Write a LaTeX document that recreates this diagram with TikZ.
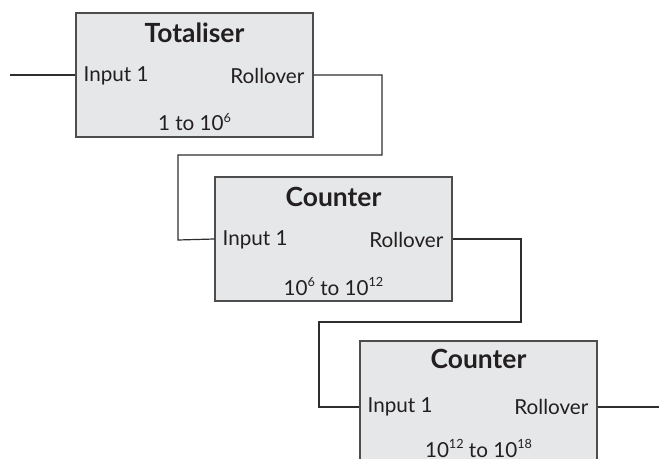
\documentclass[tikz,border=0pt]{standalone}
\usepackage{fontspec}
\setmainfont{Lato}
\usetikzlibrary{calc}
\definecolor{boxfill}{HTML}{E6E7E8}
\definecolor{boxline}{HTML}{4D4D4D}
\definecolor{wirecol}{HTML}{2E2E2E}
\definecolor{txt}{HTML}{231F20}
\newcommand{\sps}[1]{\raisebox{0.42em}{\fontsize{9.5pt}{10pt}\selectfont #1}}
\begin{document}
\begin{tikzpicture}[x=0.75pt,y=-0.75pt,
  box/.style={draw=boxline,fill=boxfill,line width=0.95pt,inner sep=0pt,minimum width=177.75pt},
  ttl/.style={font=\fontsize{19.8pt}{21pt}\selectfont\bfseries,text=txt,inner sep=0pt},
  lbl/.style={font=\fontsize{15.5pt}{17pt}\selectfont,text=txt,inner sep=0pt},
  rng/.style={lbl,anchor=base},
  wire/.style={draw=wirecol,line width=0.9pt}]
\useasboundingbox (0,0) rectangle (659,459);
\clip (0,0) rectangle (659,459);
% boxes
\node[box,minimum height=93pt] (b1) at (194.5,75) {};
\node[box,minimum height=93pt] (b2) at (333.5,239) {};
\node[box,minimum height=99pt] (b3) at (478.5,407) {};
% titles
\node[ttl] (t1) at ($(b1.center)+(0,-42)$) {Totaliser};
\node[ttl] (t2) at ($(b2.center)+(0,-42)$) {Counter};
\node[ttl] (t3) at ($(b3.center)+(0,-48)$) {Counter};
% inputs / rollovers
\node[lbl,anchor=west] (i1) at ($(b1.west)+(8,1)$) {Input 1};
\node[lbl,anchor=east] (r1) at ($(b1.east)+(-9,1)$) {Rollover};
\node[lbl,anchor=west] (i2) at ($(b2.west)+(8,1)$) {Input 1};
\node[lbl,anchor=east] (r2) at ($(b2.east)+(-9,1)$) {Rollover};
\node[lbl,anchor=west] (i3) at ($(b3.west)+(8,0)$) {Input 1};
\node[lbl,anchor=east] (r3) at ($(b3.east)+(-9,0)$) {Rollover};
% ranges
\node[rng] (g1) at ($(b1.center)+(0,56)$) {1 to 10\sps{6}};
\node[rng] (g2) at ($(b2.center)+(0,56)$) {10\sps{6} to 10\sps{12}};
\node[rng] (g3) at ($(b3.center)+(0,50)$) {10\sps{12} to 10\sps{18}};
% connectors
\coordinate (s0) at (10,75);
\coordinate (k1) at (382,155);
\coordinate (k2) at (178,240);
\coordinate (k3) at (521,322);
\coordinate (k4) at (319,407);
\coordinate (e3) at (659,407);
\draw[wire] (s0) -- (b1.west);
\draw[wire] (b1.east) -| (k1) -| (k2) -- (b2.west);
\draw[wire] (b2.east) -| (k3) -| (k4) -- (b3.west);
\draw[wire] (b3.east) -- (e3);
\end{tikzpicture}
\end{document}
